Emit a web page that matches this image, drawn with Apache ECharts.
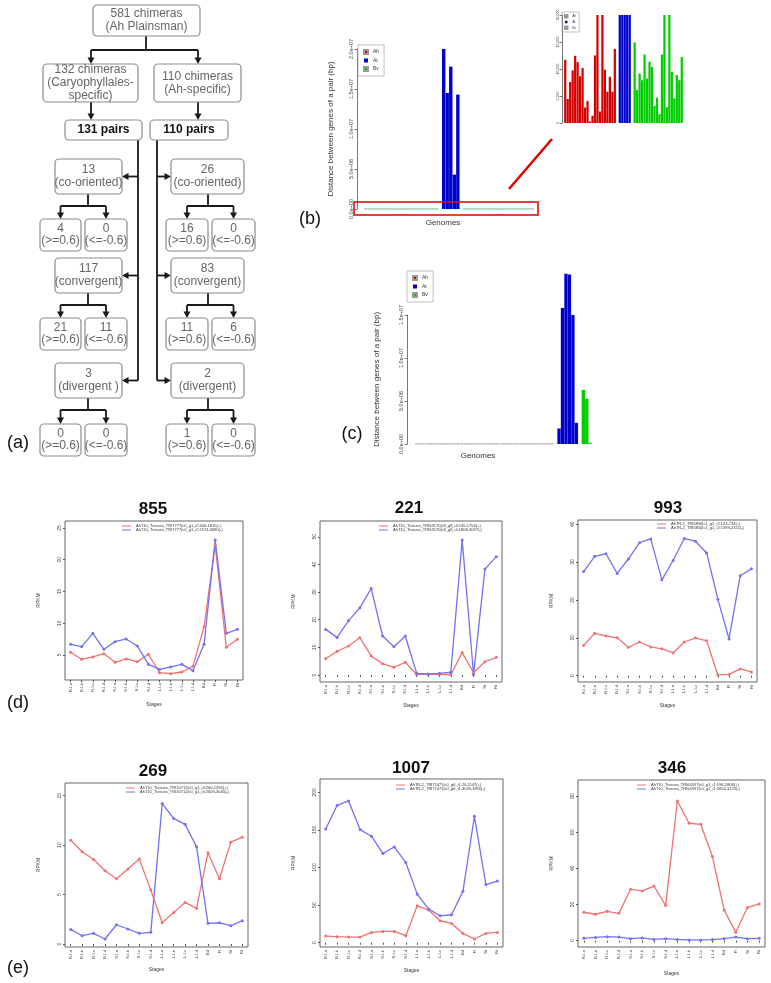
<!DOCTYPE html>
<html><head><meta charset="utf-8">
<script src="https://cdn.jsdelivr.net/npm/echarts@6/dist/echarts.min.js"></script>
<style>html,body{margin:0;padding:0;background:#fff}#c{width:771px;height:983px}</style>
</head><body><div id="c"></div>
<script>
// ---------------- DATA ----------------
// (a) flowchart
const TOP_BOX = ['581 chimeras', '(Ah Plainsman)'];
const LEFT_BOX = ['132 chimeras', '(Caryophyllales-', 'specific)'];
const RIGHT_BOX = ['110 chimeras', '(Ah-specific)'];
const PAIRS = [131, 110];
const LEFT_ORIENT = ['(co-oriented)', '(convergent)', '(divergent )'];
const RIGHT_ORIENT = ['(co-oriented)', '(convergent)', '(divergent)'];
const LEFT_TOTALS = [13, 117, 3];
const LEFT_POS = [4, 21, 0];
const LEFT_NEG = [0, 11, 0];
const RIGHT_TOTALS = [26, 83, 2];
const RIGHT_POS = [16, 11, 1];
const RIGHT_NEG = [0, 6, 0];
const POS_LABEL = '(>=0.6)';
const NEG_LABEL = '(<=-0.6)';

// (b) distances (bp)
const AH_B = [11700, 4450, 7600, 9750, 12440, 11280, 8660, 10180, 2870, 4090, 300, 1340, 12500, 25000, 2130, 25000, 9880, 5790, 8540, 5790, 13720];
const AT_B = [20000000, 14500000, 17800000, 4300000, 14300000];
const BV_B = [14940, 6100, 9150, 7930, 12680, 8230, 11340, 10370, 3170, 4700, 1650, 12680, 25000, 2930, 25000, 9450, 4570, 8900, 7930, 12200];

// (c) distances (bp)
const AH_C = [42000, 18000, 65000, 23000, 31000, 12000, 54000, 27000, 9000, 38000, 46000, 15000, 22000, 71000, 30000, 19000, 25000, 58000, 11000, 34000, 20000, 43000, 16000, 28000, 62000, 14000, 37000, 24000, 50000, 13000, 29000, 41000, 17000, 33000, 21000, 26000, 48000, 10000, 35000, 39000];
const AT_C = [1800000, 15800000, 19800000, 19700000, 15000000, 2460000];
const BV_C = [6300000, 5270000, 120000];

// (d)/(e) expression
const STAGES = ['R-I-a','R-I-b','R-I-c','R-I-d','S-I-a','S-I-b','S-I-c','S-I-d','L-I-a','L-I-b','L-I-c','L-I-d','Bd','Fl','St','Rt'];
const R855 = [5.42, 4.32, 4.69, 5.21, 3.84, 4.37, 3.95, 5.11, 2.22, 2.06, 2.32, 3.21, 9.46, 22.3, 6.21, 7.47];
const B855 = [6.68, 6.31, 8.41, 5.89, 7.10, 7.52, 6.42, 3.53, 2.74, 3.11, 3.53, 2.53, 6.68, 23.1, 8.41, 9.04];
const R221 = [5.9, 8.6, 10.5, 13.5, 6.9, 4.1, 2.8, 4.6, 0.2, 0.2, 0.2, 0.1, 8.1, 0.8, 4.8, 6.4];
const B221 = [16.5, 13.6, 19.6, 24.3, 31.3, 14.1, 10.2, 14.1, 0.6, 0.4, 0.6, 1.0, 48.8, 0.2, 38.3, 42.8];
const R993 = [8.0, 11.2, 10.5, 10.0, 7.5, 8.9, 7.6, 7.1, 6.0, 8.9, 10.0, 9.2, 0.2, 0.35, 1.8, 1.0];
const B993 = [27.5, 31.5, 32.2, 27.0, 30.8, 35.1, 36.1, 25.3, 30.4, 36.2, 35.5, 32.4, 20.2, 9.7, 26.4, 28.2];
const R269 = [10.5, 9.33, 8.55, 7.41, 6.60, 7.58, 8.59, 5.45, 2.15, 3.20, 4.21, 3.60, 9.23, 6.60, 10.3, 10.8];
const B269 = [1.48, 0.84, 1.08, 0.51, 1.95, 1.52, 1.08, 1.18, 14.2, 12.7, 12.1, 9.83, 2.09, 2.15, 1.85, 2.36];
const R1007 = [8.8, 8.0, 7.5, 7.5, 13.7, 15.0, 15.0, 9.3, 49.1, 43.4, 29.2, 25.7, 12.4, 4.9, 12.4, 13.7];
const B1007 = [151.3, 182.7, 188.5, 150.4, 141.6, 118.6, 127.4, 106.6, 64.6, 44.7, 35.8, 37.2, 68.6, 168.1, 77.4, 81.9];
const R346 = [15.7, 14.6, 16.2, 15.1, 28.4, 27.5, 30.2, 19.4, 77.2, 64.9, 64.3, 46.5, 17.0, 4.6, 18.3, 20.3];
const B346 = [1.3, 1.8, 2.2, 2.0, 1.1, 1.5, 0.7, 1.1, 0.7, 0.4, 0.4, 0.6, 1.1, 2.0, 1.1, 1.3];

const NAMES855 = ['AhT10_Tissues_TRI7777|c0_g1_i2:400-1815(+)', 'AhT10_Tissues_TRI7777|c0_g1_i2:2574-3680(-)'];
const NAMES221 = ['AhT10_Tissues_TRI63170|c8_g8_i4:135-1754(+)', 'AhT10_Tissues_TRI63170|c8_g8_i4:1808-3097(-)'];
const NAMES993 = ['AhTR-2_TRI6850|c1_g1_i2:123-734(+)', 'AhTR-2_TRI6850|c1_g1_i2:1399-2151(-)'];
const NAMES269 = ['AhT10_Tissues_TRI10712|c0_g1_i4:200-1294(+)', 'AhT10_Tissues_TRI10712|c0_g1_i4:2609-3040(-)'];
const NAMES1007 = ['AhTR-2_TRI71471|c0_g6_i1:26-1147(+)', 'AhTR-2_TRI71471|c0_g6_i1:3039-3816(-)'];
const NAMES346 = ['AhT10_Tissues_TRI64597|c0_g1_i1:198-1808(+)', 'AhT10_Tissues_TRI64597|c0_g1_i1:2654-3123(-)'];

// ---------------- LAYOUT / STYLE ----------------
const FONT = '"Liberation Sans", Arial, sans-serif';
const C_RED = '#d40000', C_BLUE = '#0000cd', C_GREEN = '#00cd00';
const L_RED = '#f07272', L_BLUE = '#7272f2';

const G = [];
function txt(x, y, t, font, fill, z) {
  return {type:'text', x:x, y:y, z: z || 11,
    style:{text:t, font:font, fill:fill, align:'center', verticalAlign:'middle', textAlign:'center', textVerticalAlign:'middle'}};
}
function box(x, y, w, h, lines, opt) {
  opt = opt || {};
  G.push({type:'rect', z:10, shape:{x:x, y:y, width:w, height:h, r:4}, style:{fill:'#fff', stroke:'#8c8c8c', lineWidth:1.2}});
  const lh = opt.lh || 13, n = lines.length, cy = y + h / 2;
  lines.forEach(function (t, i) {
    G.push(txt(x + w / 2, cy + (i - (n - 1) / 2) * lh, String(t), (opt.bold ? 'bold ' : '') + (opt.size || 12) + 'px ' + FONT, opt.color || '#666'));
  });
}
function seg(pts) { G.push({type:'polyline', z:9, shape:{points:pts}, style:{stroke:'#1a1a1a', lineWidth:1.8, fill:null}}); }
function arrowDown(x, y1, y2) {
  seg([[x, y1], [x, y2 - 4]]);
  G.push({type:'polygon', z:9, shape:{points:[[x - 3.5, y2 - 6.5], [x + 3.5, y2 - 6.5], [x, y2]]}, style:{fill:'#1a1a1a'}});
}
function arrowSide(x1, x2, y) {
  const d = x2 > x1 ? 1 : -1;
  seg([[x1, y], [x2 - 4 * d, y]]);
  G.push({type:'polygon', z:9, shape:{points:[[x2 - 6.5 * d, y - 3.5], [x2 - 6.5 * d, y + 3.5], [x2, y]]}, style:{fill:'#1a1a1a'}});
}

// flowchart
box(93, 5, 107, 31, TOP_BOX);
seg([[146, 36], [146, 50]]);
seg([[91, 50], [198, 50]]);
arrowDown(91, 50, 64);
arrowDown(198, 50, 64);
box(43, 64, 95, 38, LEFT_BOX, {lh:13});
box(154, 64, 87, 38, RIGHT_BOX);
arrowDown(91, 102, 120);
arrowDown(198, 102, 120);
box(65, 120, 77, 20, [PAIRS[0] + ' pairs'], {bold:true, color:'#111'});
box(150, 120, 78, 20, [PAIRS[1] + ' pairs'], {bold:true, color:'#111'});
seg([[138, 140], [138, 380.5]]);
seg([[157, 140], [157, 380.5]]);
const ROW_TOP = [159, 258, 363];
const SMALL_TOP = [219, 318, 424];
for (let i = 0; i < 3; i++) {
  const t = ROW_TOP[i], h = 35, ay = t + h / 2, st = SMALL_TOP[i], by = t + h + 12;
  arrowSide(138, 122, ay);
  box(55, t, 67, h, [LEFT_TOTALS[i], LEFT_ORIENT[i]]);
  seg([[88, t + h], [88, by]]); seg([[60.5, by], [106, by]]);
  arrowDown(60.5, by, st); arrowDown(106, by, st);
  box(40, st, 41, 32, [LEFT_POS[i], POS_LABEL], {lh:12});
  box(85, st, 42, 32, [LEFT_NEG[i], NEG_LABEL], {lh:12});
  arrowSide(157, 171, ay);
  box(171, t, 73, h, [RIGHT_TOTALS[i], RIGHT_ORIENT[i]]);
  seg([[208, t + h], [208, by]]); seg([[187, by], [233.5, by]]);
  arrowDown(187, by, st); arrowDown(233.5, by, st);
  box(166, st, 42, 32, [RIGHT_POS[i], POS_LABEL], {lh:12});
  box(212, st, 43, 32, [RIGHT_NEG[i], NEG_LABEL], {lh:12});
}

// panel labels
G.push(txt(18, 443, '(a)', '18px ' + FONT, '#111'));
G.push(txt(310, 219, '(b)', '18px ' + FONT, '#111'));
G.push(txt(352, 434, '(c)', '18px ' + FONT, '#111'));
G.push(txt(18, 703, '(d)', '18px ' + FONT, '#111'));
G.push(txt(18, 968, '(e)', '18px ' + FONT, '#111'));
G.push(txt(443, 223, 'Genomes', '8px ' + FONT, '#333'));
G.push(txt(478, 456, 'Genomes', '8px ' + FONT, '#333'));
// zoom annotation in (b)
G.push({type:'rect', z:100, shape:{x:354, y:202, width:184, height:13}, style:{fill:null, stroke:'#e00000', lineWidth:1.5}});
G.push({type:'line', z:100, shape:{x1:509, y1:189, x2:552, y2:139}, style:{stroke:'#e00000', lineWidth:2.5}});

// ---------------- CHART OPTION ----------------
function nulls(n) { return new Array(n).fill(null); }
function groups(ah, at, bv) {
  const n = ah.length + 1 + at.length + 1 + bv.length;
  return {
    cats: Array.from({length:n}, function (_, i) { return 'g' + i; }),
    ah: ah.concat(nulls(n - ah.length)),
    at: nulls(ah.length + 1).concat(at, nulls(1 + bv.length)),
    bv: nulls(ah.length + 1 + at.length + 1).concat(bv)
  };
}
const GB = groups(AH_B, AT_B, BV_B);
const GC = groups(AH_C, AT_C, BV_C);
const sci = function (v) { return v.toExponential(1).replace(/e([+-])(\d)$/, 'e$10$2'); };

const grids = [], xAxes = [], yAxes = [], series = [], legends = [];
function barPanel(idx, rect, grp, yopt, clip, border, legendPos, legSize, gap) {
  grids.push({left:rect[0], top:rect[1], width:rect[2], height:rect[3], show:false});
  xAxes.push({gridIndex:idx, type:'category', data:grp.cats, show:false});
  yAxes.push(Object.assign({gridIndex:idx, type:'value', splitLine:{show:false},
    axisLine:{show:true, lineStyle:{color:'#555', width:0.8}},
    axisTick:{show:true, length:2.5, lineStyle:{color:'#555', width:0.8}}}, yopt));
  const bs = border ? {borderColor:'#9a9a9a', borderWidth:0.6} : {};
  [['Ah', grp.ah, C_RED, bs], ['At', grp.at, C_BLUE, {}], ['Bv', grp.bv, C_GREEN, idx === 0 ? bs : {}]].forEach(function (s) {
    series.push({type:'bar', name:s[0], xAxisIndex:idx, yAxisIndex:idx, stack:'s' + idx, data:s[1],
      barCategoryGap:gap, clip:clip, itemStyle:Object.assign({color:s[2]}, s[3]), emphasis:{disabled:true}});
  });
  legends.push({data:['Ah', 'At', 'Bv'], left:legendPos[0], top:legendPos[1], orient:'vertical', icon:'rect',
    itemWidth:legSize.icon, itemHeight:legSize.icon, itemGap:legSize.gap, padding:legSize.pad,
    borderColor:'#999', borderWidth:0.6, selectedMode:false,
    textStyle:{fontSize:legSize.font, color:'#333', fontFamily:FONT}});
}
barPanel(0, [364, 49, 170, 160], GB, {min:0, max:20000000, interval:5000000, offset:7,
  axisLabel:{rotate:90, fontSize:5.5, color:'#444', margin:3, formatter:sci},
  name:'Distance between genes of a pair (bp)', nameLocation:'middle', nameGap:22,
  nameTextStyle:{fontSize:8, color:'#333', fontFamily:FONT}}, false, true, [358, 45], {icon:4, gap:3, pad:[4, 5, 4, 5], font:5}, '4%');
barPanel(1, [564, 15, 119, 108], GB, {min:0, max:20000, interval:5000, offset:2,
  axisLabel:{rotate:90, fontSize:3.5, color:'#444', margin:2}}, true, false, [562, 12], {icon:2.5, gap:2, pad:[2, 3, 2, 2], font:3}, '10%');
barPanel(2, [415, 315, 177, 129], GC, {min:0, max:15000000, interval:5000000, offset:8,
  axisLabel:{rotate:90, fontSize:5.5, color:'#444', margin:3, formatter:sci},
  name:'Distance between genes of a pair (bp)', nameLocation:'middle', nameGap:26,
  nameTextStyle:{fontSize:8, color:'#333', fontFamily:FONT}}, false, true, [407, 271], {icon:4, gap:3, pad:[4, 5, 4, 5], font:5}, '4%');

const LINES = [
  {title:'855', red:R855, blue:B855, names:NAMES855, box:[65, 521, 178, 159], y:[1.06, 26.1], ticks:[5, 10, 15, 20, 25], tpos:[153, 509], leg:[122, 524], sg:22, rg:24},
  {title:'221', red:R221, blue:B221, names:NAMES221, box:[320, 521, 182, 161], y:[-2.53, 55.7], ticks:[0, 10, 20, 30, 40, 50], tpos:[409, 508], leg:[379, 524], sg:21, rg:24},
  {title:'993', red:R993, blue:B993, names:NAMES993, box:[578, 520, 179, 162], y:[-1.66, 41.1], ticks:[0, 10, 20, 30, 40], tpos:[668, 508], leg:[657, 522], sg:21, rg:24},
  {title:'269', red:R269, blue:B269, names:NAMES269, box:[65, 783, 183, 164], y:[-0.3, 16.28], ticks:[0, 5, 10, 15], tpos:[153, 771], leg:[126, 786], sg:20, rg:24},
  {title:'1007', red:R1007, blue:B1007, names:NAMES1007, box:[320, 779, 183, 168], y:[-5.7, 217.7], ticks:[0, 50, 100, 150, 200], tpos:[411, 768], leg:[396, 783], sg:21, rg:24},
  {title:'346', red:R346, blue:B346, names:NAMES346, box:[578, 780, 187, 167], y:[-3.5, 88.8], ticks:[0, 20, 40, 60, 80], tpos:[672, 768], leg:[637, 783], sg:24, rg:24}
];
LINES.forEach(function (c, k) {
  const idx = 3 + k;
  grids.push({left:c.box[0], top:c.box[1], width:c.box[2], height:c.box[3], show:true, borderColor:'#666', borderWidth:1, backgroundColor:'rgba(0,0,0,0)'});
  xAxes.push({gridIndex:idx, type:'category', data:STAGES, boundaryGap:true,
    axisLine:{show:false}, axisTick:{show:true, alignWithLabel:true, interval:0, length:2, lineStyle:{color:'#555'}},
    axisLabel:{interval:0, rotate:90, fontSize:4, color:'#444', margin:3, fontFamily:FONT},
    name:'Stages', nameLocation:'middle', nameGap:c.sg, nameTextStyle:{fontSize:5, color:'#333', fontFamily:FONT}});
  yAxes.push({gridIndex:idx, type:'value', min:c.y[0], max:c.y[1], splitLine:{show:false}, axisLine:{show:false},
    axisTick:{show:true, length:2, lineStyle:{color:'#555'}, customValues:c.ticks},
    axisLabel:{rotate:90, fontSize:5, color:'#444', margin:3, customValues:c.ticks, fontFamily:FONT},
    name:'RPKM', nameLocation:'middle', nameGap:c.rg, nameTextStyle:{fontSize:5, color:'#333', fontFamily:FONT}});
  [[c.names[0], c.red, L_RED], [c.names[1], c.blue, L_BLUE]].forEach(function (s) {
    series.push({type:'line', name:s[0], xAxisIndex:idx, yAxisIndex:idx, data:s[1], symbol:'circle', symbolSize:3,
      lineStyle:{color:s[2], width:1.3}, itemStyle:{color:s[2]}, emphasis:{disabled:true}});
  });
  legends.push({data:c.names, left:c.leg[0], top:c.leg[1], orient:'vertical', icon:'rect', itemWidth:9, itemHeight:1,
    itemGap:0, padding:0, selectedMode:false, textStyle:{fontSize:4, color:'#333', fontFamily:FONT}});
  G.push(txt(c.tpos[0], c.tpos[1], c.title, 'bold 17px ' + FONT, '#111'));
});

const chart = echarts.init(document.getElementById('c'), null, {renderer:'canvas', width:771, height:983});
chart.setOption({
  animation:false,
  backgroundColor:'#fff',
  textStyle:{fontFamily:FONT},
  grid:grids, xAxis:xAxes, yAxis:yAxes, series:series, legend:legends,
  graphic:{elements:G}
});
</script></body></html>
